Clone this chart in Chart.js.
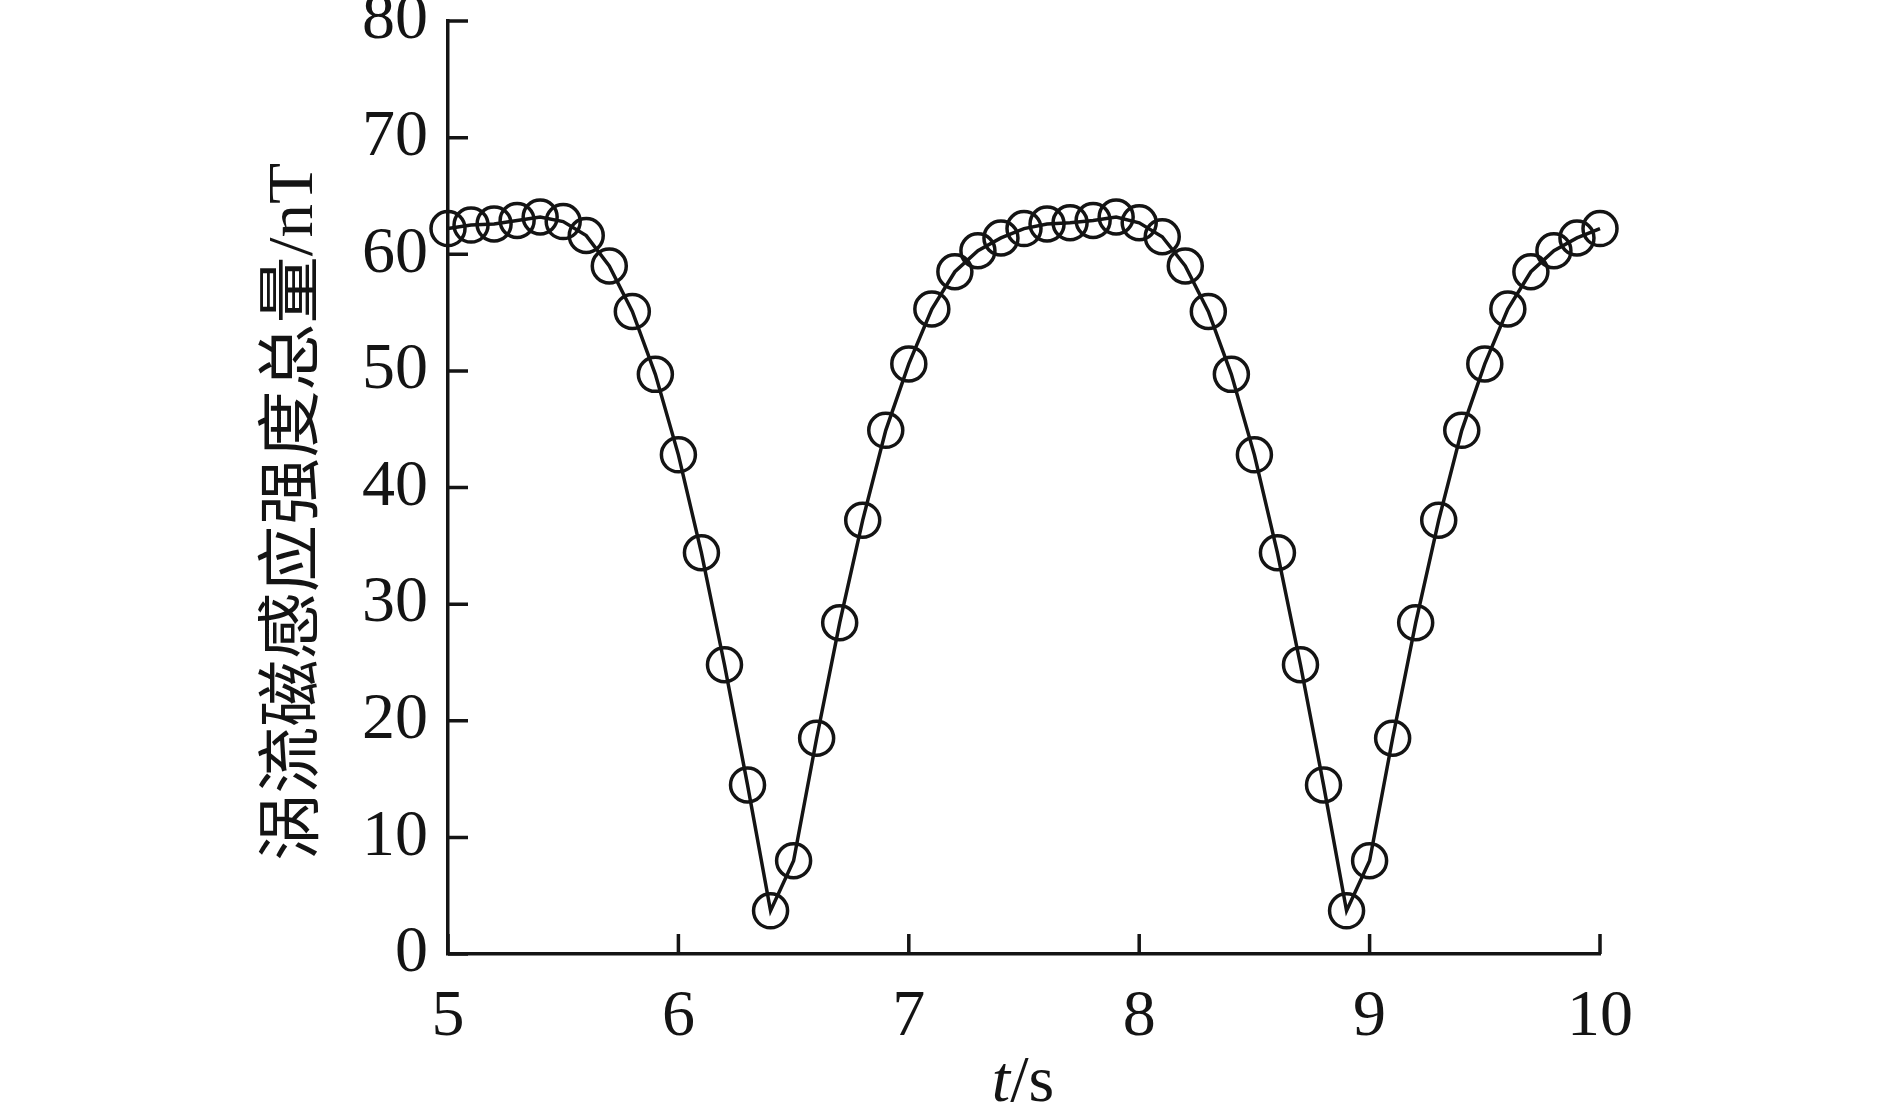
<!DOCTYPE html>
<html>
<head>
<meta charset="utf-8">
<script src="https://cdn.jsdelivr.net/npm/chart.js@4/dist/chart.umd.min.js"></script>
<style>
  html, body { margin: 0; padding: 0; background: #fff; }
  canvas { display: block; }
</style>
</head>
<body>
<canvas id="chart" width="1889" height="1103"></canvas>
<script>
// time axis (s) and total eddy-current induced field (nT)
const times = [
  5.0, 5.1, 5.2, 5.3, 5.4, 5.5, 5.6, 5.7, 5.8, 5.9,
  6.0, 6.1, 6.2, 6.3, 6.4, 6.5, 6.6, 6.7, 6.8, 6.9,
  7.0, 7.1, 7.2, 7.3, 7.4, 7.5, 7.6, 7.7, 7.8, 7.9,
  8.0, 8.1, 8.2, 8.3, 8.4, 8.5, 8.6, 8.7, 8.8, 8.9,
  9.0, 9.1, 9.2, 9.3, 9.4, 9.5, 9.6, 9.7, 9.8, 9.9, 10.0
];
const fieldTotal = [
  62.2, 62.5, 62.6, 62.9, 63.2, 62.8, 61.6, 59.0, 55.1, 49.7,
  42.8, 34.4, 24.8, 14.5, 3.7, 8.0, 18.5, 28.4, 37.2, 44.9,
  50.6, 55.3, 58.5, 60.3, 61.4, 62.2, 62.6, 62.7, 62.9, 63.2,
  62.7, 61.5, 59.0, 55.1, 49.7, 42.8, 34.4, 24.8, 14.5, 3.7,
  8.0, 18.5, 28.4, 37.2, 44.9, 50.6, 55.3, 58.5, 60.3, 61.4, 62.2
];
const xTicks = [5, 6, 7, 8, 9, 10];
const yTicks = [0, 10, 20, 30, 40, 50, 60, 70, 80];

const INK = '#141414';
const SERIF = "'Liberation Serif', 'Times New Roman', serif";
const TITLE_FONT = "'Liberation Serif', 'Noto Sans CJK SC', serif";

// inward tick marks + axis titles
const decorations = {
  id: 'decorations',
  afterDraw(chart) {
    const { ctx, chartArea, scales } = chart;
    ctx.save();
    ctx.strokeStyle = INK;
    ctx.lineWidth = 3.5;
    ctx.beginPath();
    for (const v of yTicks) {
      const y = scales.y.getPixelForValue(v);
      ctx.moveTo(chartArea.left, y);
      ctx.lineTo(chartArea.left + 20, y);
    }
    for (const v of xTicks) {
      const x = scales.x.getPixelForValue(v);
      ctx.moveTo(x, chartArea.bottom);
      ctx.lineTo(x, chartArea.bottom - 20);
    }
    ctx.stroke();

    // x title: italic t + /s
    ctx.fillStyle = INK;
    ctx.textBaseline = 'alphabetic';
    ctx.font = 'italic 66px ' + SERIF;
    const tW = ctx.measureText('t').width;
    ctx.font = '66px ' + SERIF;
    const sW = ctx.measureText('/s').width;
    const startX = 1023 - (tW + sW) / 2;
    ctx.textAlign = 'left';
    ctx.font = 'italic 66px ' + SERIF;
    ctx.fillText('t', startX, 1101);
    ctx.font = '66px ' + SERIF;
    ctx.fillText('/s', startX + tW, 1101);

    // y title, rotated
    ctx.translate(295, 512);
    ctx.rotate(-Math.PI / 2);
    ctx.scale(1.05, 1);
    ctx.font = '64px ' + TITLE_FONT;
    ctx.textAlign = 'center';
    ctx.textBaseline = 'middle';
    ctx.fillText('涡流磁感应强度总量/nT', 0, 0);
    ctx.restore();
  }
};

new Chart(document.getElementById('chart').getContext('2d'), {
  type: 'line',
  data: {
    datasets: [{
      data: times.map((t, i) => ({ x: t, y: fieldTotal[i] })),
      borderColor: INK,
      borderWidth: 3.5,
      tension: 0,
      pointStyle: 'circle',
      pointRadius: 17,
      pointBorderWidth: 3.5,
      pointBorderColor: INK,
      pointBackgroundColor: 'rgba(0,0,0,0)',
      fill: false,
      clip: false,
    }],
  },
  options: {
    responsive: false,
    animation: false,
    layout: { padding: { top: 21, right: 289, bottom: 0, left: 0 } },
    plugins: {
      legend: { display: false },
      tooltip: { enabled: false },
    },
    scales: {
      x: {
        type: 'linear',
        min: 5,
        max: 10,
        afterBuildTicks: (s) => { s.ticks = xTicks.map(v => ({ value: v })); },
        afterFit: (s) => { s.height = 149; s.paddingLeft = 0; s.paddingRight = 0; },
        grid: { display: false, drawTicks: false },
        border: { display: true, color: INK, width: 3.5 },
        ticks: {
          color: INK,
          padding: 24,
          maxRotation: 0,
          font: { family: SERIF, size: 66 },
        },
      },
      y: {
        min: 0,
        max: 80,
        afterBuildTicks: (s) => { s.ticks = yTicks.map(v => ({ value: v })); },
        afterFit: (s) => { s.width = 448; s.paddingTop = 0; s.paddingBottom = 0; },
        grid: { display: false, drawTicks: false },
        border: { display: true, color: INK, width: 3.5 },
        ticks: {
          color: INK,
          padding: 20,
          font: { family: SERIF, size: 66 },
        },
      },
    },
  },
  plugins: [decorations],
});
</script>
</body>
</html>
